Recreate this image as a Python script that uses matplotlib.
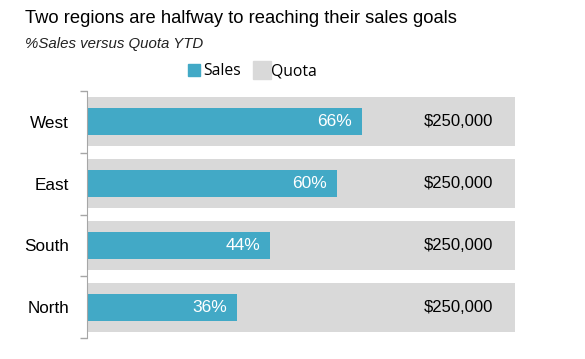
import matplotlib.pyplot as plt
from matplotlib.lines import Line2D
from matplotlib.ticker import FixedLocator

regions = ['West', 'East', 'South', 'North']
sales_pct = [66, 60, 44, 36]
quota = [250000, 250000, 250000, 250000]

teal = '#42A9C6'
grey = '#D9D9D9'
font = ['Liberation Sans', 'DejaVu Sans']

fig = plt.figure(figsize=(5.85, 3.59), dpi=100)
ax = fig.add_axes([0.1487, 0.0585, 0.7316, 0.688])

x_max = 102.7  # quota band fills the whole plot width
y = list(range(len(regions)))[::-1]

ax.barh(y, [x_max] * len(regions), height=0.79, color=grey, zorder=1)
ax.barh(y, sales_pct, height=0.44, color=teal, zorder=2)

for yi, p, q in zip(y, sales_pct, quota):
    ax.annotate(f'{p}%', (p, yi), xytext=(-7, 0), textcoords='offset points',
                ha='right', va='center', color='white', fontsize=12.5,
                family=font, zorder=3)
    ax.text(0.869, yi, f'${q:,.0f}', transform=ax.get_yaxis_transform(),
            ha='center', va='center', fontsize=12, family=font, zorder=3)

ax.set_xlim(0, x_max)
ax.set_ylim(-0.5, len(regions) - 0.5)
ax.set_xticks([])
ax.set_yticks(y)
ax.set_yticklabels(regions, fontsize=12.3, family=font)
ax.yaxis.set_minor_locator(FixedLocator([i - 0.5 for i in range(len(regions) + 1)]))
ax.tick_params(axis='y', which='major', length=0, pad=13)
ax.tick_params(axis='y', which='minor', length=5, color='#A6A6A6', width=1)
for s in ['top', 'right', 'bottom']:
    ax.spines[s].set_visible(False)
ax.spines['left'].set_color('#A6A6A6')

fig.text(0.043, 0.936, 'Two regions are halfway to reaching their sales goals',
         fontsize=13.2, family=font, va='baseline')
fig.text(0.043, 0.866, '%Sales versus Quota YTD', fontsize=10.8,
         style='italic', family=font, va='baseline', color='#222222')

handles = [Line2D([], [], marker='s', ls='', color=teal, markersize=8),
           Line2D([], [], marker='s', ls='', color=grey, markersize=13)]
fig.legend(handles, ['Sales', 'Quota'], loc='center', bbox_to_anchor=(0.43, 0.802),
           ncol=2, frameon=False, handletextpad=0.1, columnspacing=0.8,
           handlelength=1.0, prop={'family': 'Open Sans', 'size': 11.3})

fig.savefig('out.png', dpi=100)
